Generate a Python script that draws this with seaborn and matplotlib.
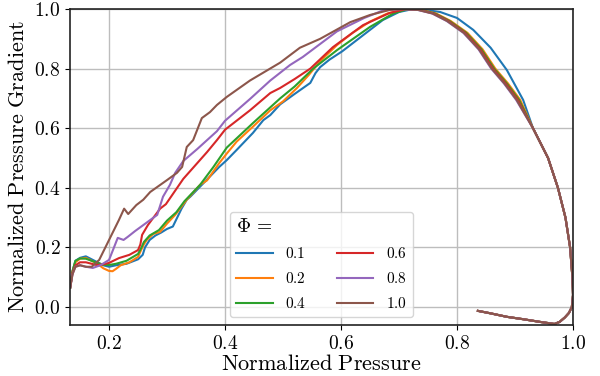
import numpy as np
import pandas as pd
import matplotlib
matplotlib.use("Agg")
import matplotlib.pyplot as plt
from matplotlib.ticker import FuncFormatter
import seaborn as sns

plt.rcParams['mathtext.fontset'] = 'cm'
plt.rcParams['font.family'] = ['DejaVu Serif']

phis = ["0.1", "0.2", "0.4", "0.6", "0.8", "1.0"]
colors = ["#1f77b4", "#ff7f0e", "#2ca02c", "#d62728", "#9467bd", "#8c564b"]

# rising branches (path order)
up_01_x = [0.133, 0.137, 0.142, 0.15, 0.16, 0.17, 0.18, 0.19, 0.2, 0.212, 0.23, 0.25, 0.258, 0.262, 0.27, 0.28, 0.29, 0.3, 0.31, 0.32, 0.325, 0.334, 0.34, 0.35, 0.37, 0.39, 0.403, 0.42, 0.448, 0.466, 0.478, 0.495, 0.52, 0.547, 0.556, 0.564, 0.58, 0.602, 0.63, 0.672, 0.7, 0.724, 0.745, 0.771, 0.8, 0.828, 0.858, 0.886, 0.914]
up_01_y = [0.065, 0.12, 0.155, 0.165, 0.17, 0.16, 0.15, 0.14, 0.135, 0.14, 0.145, 0.16, 0.175, 0.2, 0.225, 0.24, 0.25, 0.262, 0.27, 0.31, 0.33, 0.36, 0.37, 0.39, 0.43, 0.47, 0.493, 0.527, 0.584, 0.627, 0.644, 0.68, 0.715, 0.752, 0.785, 0.805, 0.83, 0.858, 0.9, 0.963, 0.99, 1.0, 0.997, 0.99, 0.97, 0.93, 0.87, 0.795, 0.695]

up_02_x = [0.133, 0.137, 0.142, 0.15, 0.16, 0.17, 0.18, 0.19, 0.2, 0.206, 0.212, 0.22, 0.235, 0.25, 0.255, 0.26, 0.265, 0.276, 0.288, 0.3, 0.314, 0.334, 0.357, 0.369, 0.39, 0.403, 0.42, 0.448, 0.478, 0.5, 0.524, 0.545, 0.564, 0.593, 0.62, 0.65, 0.68, 0.715]
up_02_y = [0.065, 0.12, 0.15, 0.162, 0.165, 0.155, 0.145, 0.13, 0.121, 0.12, 0.128, 0.14, 0.15, 0.168, 0.19, 0.21, 0.225, 0.245, 0.252, 0.28, 0.309, 0.36, 0.41, 0.425, 0.483, 0.515, 0.555, 0.605, 0.66, 0.69, 0.735, 0.78, 0.825, 0.879, 0.92, 0.958, 0.985, 1.0]

up_04_x = [0.133, 0.137, 0.142, 0.15, 0.16, 0.17, 0.18, 0.19, 0.2, 0.212, 0.23, 0.25, 0.256, 0.26, 0.27, 0.286, 0.3, 0.316, 0.33, 0.357, 0.38, 0.403, 0.448, 0.478, 0.495, 0.52, 0.552, 0.593, 0.65, 0.69, 0.715]
up_04_y = [0.065, 0.12, 0.155, 0.163, 0.162, 0.155, 0.148, 0.142, 0.141, 0.145, 0.155, 0.178, 0.2, 0.218, 0.24, 0.258, 0.29, 0.318, 0.355, 0.41, 0.47, 0.535, 0.617, 0.67, 0.7, 0.74, 0.8, 0.862, 0.94, 0.985, 1.0]

up_06_x = [0.133, 0.137, 0.142, 0.15, 0.16, 0.178, 0.19, 0.2, 0.217, 0.235, 0.25, 0.254, 0.257, 0.267, 0.288, 0.298, 0.328, 0.369, 0.386, 0.4, 0.443, 0.478, 0.495, 0.52, 0.547, 0.586, 0.638, 0.684, 0.712]
up_06_y = [0.065, 0.115, 0.14, 0.15, 0.15, 0.141, 0.143, 0.148, 0.164, 0.175, 0.191, 0.21, 0.242, 0.275, 0.33, 0.345, 0.43, 0.52, 0.56, 0.595, 0.66, 0.718, 0.735, 0.765, 0.8, 0.872, 0.946, 0.987, 1.0]

up_08_x = [0.133, 0.137, 0.142, 0.15, 0.16, 0.172, 0.185, 0.2, 0.215, 0.225, 0.232, 0.245, 0.264, 0.283, 0.293, 0.305, 0.314, 0.328, 0.352, 0.386, 0.4, 0.443, 0.478, 0.512, 0.534, 0.593, 0.64, 0.672, 0.705]
up_08_y = [0.065, 0.11, 0.135, 0.14, 0.135, 0.131, 0.14, 0.158, 0.232, 0.225, 0.235, 0.255, 0.282, 0.309, 0.37, 0.41, 0.45, 0.49, 0.53, 0.59, 0.625, 0.698, 0.76, 0.812, 0.839, 0.925, 0.97, 0.995, 1.0]

up_10_x = [0.133, 0.137, 0.142, 0.15, 0.16, 0.17, 0.183, 0.2, 0.217, 0.226, 0.233, 0.247, 0.259, 0.271, 0.3, 0.317, 0.326, 0.334, 0.345, 0.36, 0.374, 0.386, 0.403, 0.443, 0.495, 0.529, 0.564, 0.616, 0.65, 0.684, 0.705]
up_10_y = [0.065, 0.11, 0.135, 0.14, 0.135, 0.135, 0.158, 0.225, 0.292, 0.33, 0.312, 0.342, 0.36, 0.386, 0.426, 0.45, 0.47, 0.537, 0.56, 0.634, 0.654, 0.678, 0.705, 0.76, 0.82, 0.87, 0.9, 0.956, 0.98, 0.997, 1.0]

# falling branch shared by 0.2 - 1.0
down_x = [0.735, 0.76, 0.785, 0.814, 0.84, 0.862, 0.884, 0.905]
down_y = [0.997, 0.985, 0.96, 0.92, 0.865, 0.8, 0.75, 0.695]
down_shift = {"0.2": 0.004, "0.4": 0.002, "0.6": 0.0, "0.8": -0.003, "1.0": -0.002}

# common tail (right side and bottom)
tail_x = [0.931, 0.957, 0.974, 0.987, 0.995, 0.999, 1.0, 0.998, 0.993, 0.986, 0.977, 0.968, 0.943, 0.914, 0.886, 0.857, 0.836]
tail_y = [0.6, 0.5, 0.4, 0.3, 0.2, 0.1, 0.04, 0.0, -0.02, -0.035, -0.05, -0.057, -0.05, -0.041, -0.033, -0.021, -0.013]

ups = {"0.1": (up_01_x, up_01_y), "0.2": (up_02_x, up_02_y), "0.4": (up_04_x, up_04_y),
       "0.6": (up_06_x, up_06_y), "0.8": (up_08_x, up_08_y), "1.0": (up_10_x, up_10_y)}

rows = []
for p in phis:
    ux, uy = ups[p]
    xs = list(ux)
    ys = list(uy)
    if p != "0.1":
        xs += [v + down_shift[p] for v in down_x]
        ys += list(down_y)
    xs += tail_x
    ys += tail_y
    for i, (a, b) in enumerate(zip(xs, ys)):
        rows.append({"x": a, "y": b, "phi": p, "order": i})
df = pd.DataFrame(rows)

fig = plt.figure(figsize=(6.0, 3.76), dpi=100)
ax = fig.add_axes([0.117, 0.136, 0.838, 0.840])

for p, c in zip(phis, colors):
    sub = df[df["phi"] == p]
    sns.lineplot(data=sub, x="x", y="y", sort=False, estimator=None, color=c,
                 lw=1.5, ax=ax, label=r"$%s$" % p)

ax.set_xlim(0.133, 1.0)
ax.set_ylim(-0.06, 1.0)
ax.set_xticks([0.2, 0.4, 0.6, 0.8, 1.0])
ax.set_yticks([0.0, 0.2, 0.4, 0.6, 0.8, 1.0])
fmt = FuncFormatter(lambda v, pos: r"$%.1f$" % v)
ax.xaxis.set_major_formatter(fmt)
ax.yaxis.set_major_formatter(fmt)
ax.tick_params(labelsize=14)
ax.grid(True, color="#bdbdbd", lw=1.0)
ax.set_axisbelow(True)
for s in ax.spines.values():
    s.set_color("#222222")
    s.set_linewidth(1.2)

ax.set_xlabel(r"$\mathrm{Normalized\ Pressure}$", fontsize=16, labelpad=0)
ax.set_ylabel(r"$\mathrm{Normalized\ Pressure\ Gradient}$", fontsize=16, labelpad=4)

leg = ax.legend(title=r"$\Phi\, =$", ncol=2, loc="lower left",
                bbox_to_anchor=(0.318, 0.025), borderaxespad=0,
                fontsize=11, title_fontsize=14, handlelength=2.4,
                labelspacing=0.65, alignment="left", framealpha=0.8)

fig.savefig("out.png", dpi=100)
